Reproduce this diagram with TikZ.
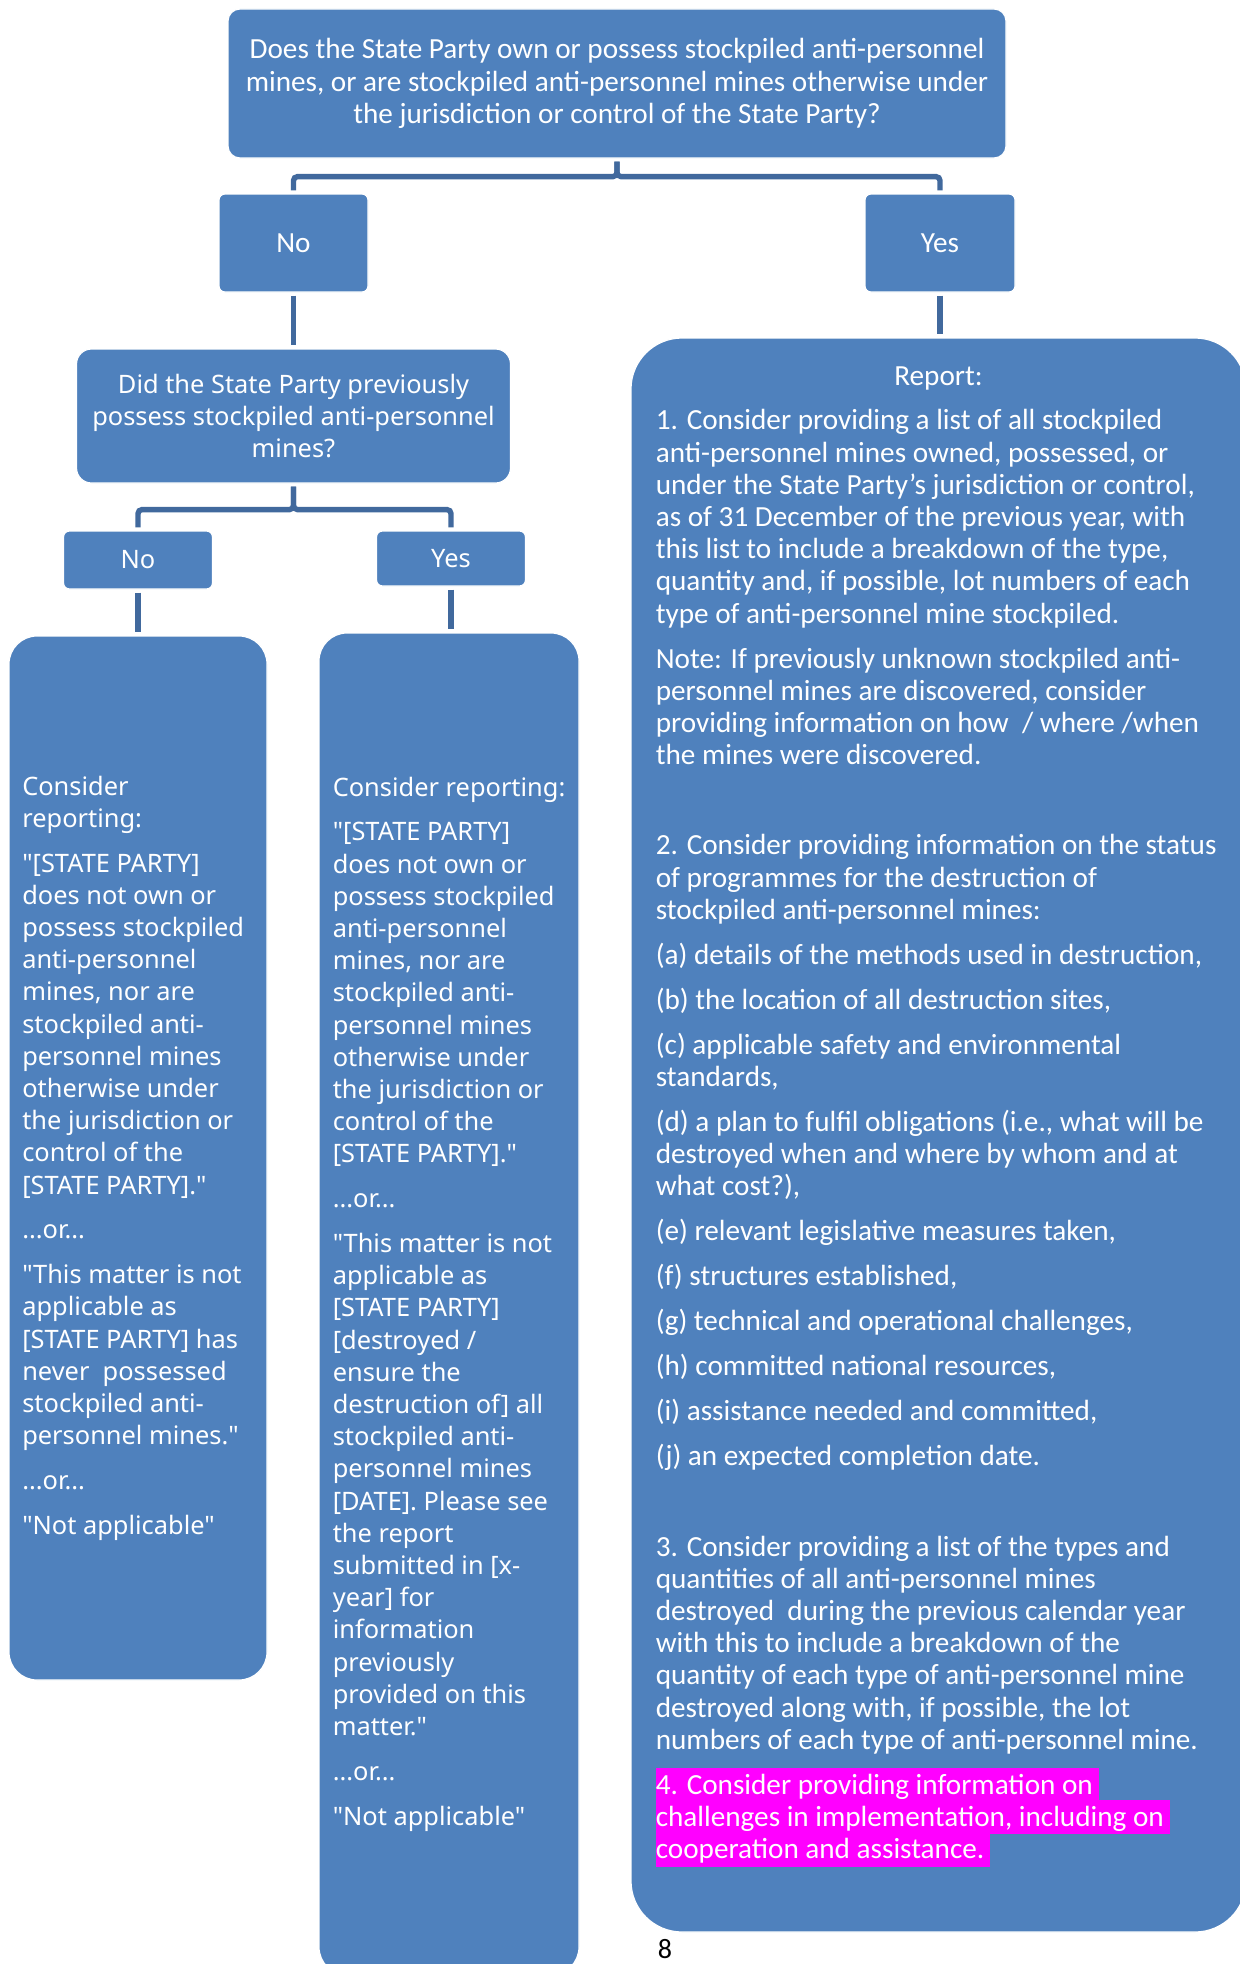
\documentclass[tikz,border=0pt]{standalone}
\usepackage{fontspec}
\setmainfont{Carlito}
\newfontfamily\notosans{Noto Sans}
\usetikzlibrary{positioning}
\definecolor{boxblue}{HTML}{4F81BD}
\definecolor{linkblue}{HTML}{41699D}
\definecolor{hlmagenta}{HTML}{FF00FF}
\newcommand{\hlline}[1]{\smash{\fboxsep=0pt\colorbox{hlmagenta}{\rule[-4pt]{0pt}{17.1pt}#1\kern3pt}}}
\tikzset{
  box/.style={fill=boxblue, draw=white, line width=0.6pt, rounded corners=#1, inner sep=0pt, text=white, align=center},
  box/.default=3pt,
  calib/.style={font=\fontsize{14.6}{16.1}\selectfont},
  segoe/.style={font=\notosans\fontsize{12.7}{16.1}\selectfont},
  bodytext/.style={text=white, inner sep=0pt, align=left},
  conn/.style={draw=linkblue, line width=2.7pt, rounded corners=2pt, shorten <=1.5pt, shorten >=1.5pt}
}
\begin{document}
\begin{tikzpicture}[x=0.5pt, y=-0.5pt]
    \useasboundingbox (0,0) rectangle (1240,1964);
    \clip (0,0) rectangle (1240,1964);
    \fill[white] (0,0) rectangle (1240,1964);
    %kerdesek
    \node[box=6pt, calib, minimum width=389pt, minimum height=74.5pt] (own) at (617,83.5) {Does the State Party own or possess stockpiled anti-personnel\\mines, or are stockpiled anti-personnel mines otherwise under\\the jurisdiction or control of the State Party?};
    \node[box, calib, minimum width=74.5pt, minimum height=49pt] (no) at (293.5,243) {No};
    \node[box, calib, minimum width=75pt, minimum height=49pt] (yes) at (940,243) {Yes};
    \node[box=7.5pt, segoe, minimum width=217pt, minimum height=67pt] (did) at (293.5,416) {Did the State Party previously\\possess stockpiled anti-personnel\\mines?};
    \node[box, segoe, minimum width=74.5pt, minimum height=29pt] (no2) at (138,560) {No};
    \node[box, segoe, minimum width=74.5pt, minimum height=27.5pt] (yes2) at (451,558.5) {Yes};
    %valasz dobozok, a kozepso es a jobb oldali kilog a lapbol
    \node[box=14pt, minimum width=129pt, minimum height=522pt] (leftbox) at (138,1158) {};
    \node[box=14pt, minimum width=130pt, minimum height=671pt] (midbox) at (449,1304) {};
    \node[box=25.5pt, minimum width=307.5pt, minimum height=797pt] (report) at (938.5,1135) {};
    %osszekotok
    \draw[conn] (own.south) -- ++(0,18) -| (no.north);
    \draw[conn] (own.south) -- ++(0,18) -| (yes.north);
    \draw[conn] (no.south) -- (did.north);
    \draw[conn] (yes.south) -- (yes.south |- report.north);
    \draw[conn] (did.south) -- ++(0,26) -| (no2.north);
    \draw[conn] (did.south) -- ++(0,26) -| (yes2.north);
    \draw[conn] (no2.south) -- (no2.south |- leftbox.north);
    \draw[conn] (yes2.south) -- (yes2.south |- midbox.north);
    %szovegek
    \node[bodytext, segoe, anchor=west] (lefttext) at ([xshift=6.75pt]leftbox.west) {Consider\\
        reporting:\\[6.3pt]
        "[STATE PARTY]\\
        does not own or\\
        possess stockpiled\\
        anti-personnel\\
        mines, nor are\\
        stockpiled anti-\\
        personnel mines\\
        otherwise under\\
        the jurisdiction or\\
        control of the\\
        {[}STATE PARTY]."\\[6.3pt]
        ...or...\\[6.3pt]
        "This matter is not\\
        applicable as\\
        {[}STATE PARTY] has\\
        never~ possessed\\
        stockpiled anti-\\
        personnel mines."\\[6.3pt]
        ...or...\\[6.3pt]
        "Not applicable"};
    \node[bodytext, segoe, anchor=west] (midtext) at ([xshift=7pt]midbox.west) {Consider reporting:\\[6.3pt]
        "[STATE PARTY]\\
        does not own or\\
        possess stockpiled\\
        anti-personnel\\
        mines, nor are\\
        stockpiled anti-\\
        personnel mines\\
        otherwise under\\
        the jurisdiction or\\
        control of the\\
        {[}STATE PARTY]."\\[6.3pt]
        ...or...\\[6.3pt]
        "This matter is not\\
        applicable as\\
        {[}STATE PARTY]\\
        {[}destroyed /\\
        ensure the\\
        destruction of] all\\
        stockpiled anti-\\
        personnel mines\\
        {[}DATE]. Please see\\
        the report\\
        submitted in [x-\\
        year] for\\
        information\\
        previously\\
        provided on this\\
        matter."\\[6.3pt]
        ...or...\\[6.3pt]
        "Not applicable"};
    \node[bodytext, calib, anchor=base] (reporthead) at ([yshift=-24pt]report.north) {Report:};
    \node[bodytext, calib, anchor=north west] (reporttext) at ([xshift=12.5pt, yshift=-34.2pt]report.north west) {\rule{0pt}{11.8pt}1. Consider providing a list of all stockpiled\\
        anti-personnel mines owned, possessed, or\\
        under the State Party's jurisdiction or control,\\
        as of 31 December of the previous year, with\\
        this list to include a breakdown of the type,\\
        quantity and, if possible, lot numbers of each\\
        type of anti-personnel mine stockpiled.\\[6.4pt]
        Note: If previously unknown stockpiled anti-\\
        personnel mines are discovered, consider\\
        providing information on how~ / where /when\\
        the mines were discovered.\\[29pt]
        2. Consider providing information on the status\\
        of programmes for the destruction of\\
        stockpiled anti-personnel mines:\\[6.4pt]
        (a) details of the methods used in destruction,\\[6.4pt]
        (b) the location of all destruction sites,\\[6.4pt]
        (c) applicable safety and environmental\\
        standards,\\[6.4pt]
        (d) a plan to fulfil obligations (i.e., what will be\\
        destroyed when and where by whom and at\\
        what cost?),\\[6.4pt]
        (e) relevant legislative measures taken,\\[6.4pt]
        (f) structures established,\\[6.4pt]
        (g) technical and operational challenges,\\[6.4pt]
        (h) committed national resources,\\[6.4pt]
        (i) assistance needed and committed,\\[6.4pt]
        (j) an expected completion date.\\[29pt]
        3. Consider providing a list of the types and\\
        quantities of all anti-personnel mines\\
        destroyed~ during the previous calendar year\\
        with this to include a breakdown of the\\
        quantity of each type of anti-personnel mine\\
        destroyed along with, if possible, the lot\\
        numbers of each type of anti-personnel mine.\\[6.4pt]
        \hlline{4. Consider providing information on}\\
        \hlline{challenges in implementation, including on}\\
        \hlline{cooperation and assistance.}};
    \node[anchor=base, inner sep=0pt, font=\fontsize{14}{16}\selectfont] (pagenum) at (665,1958) {8};
\end{tikzpicture}
\end{document}
